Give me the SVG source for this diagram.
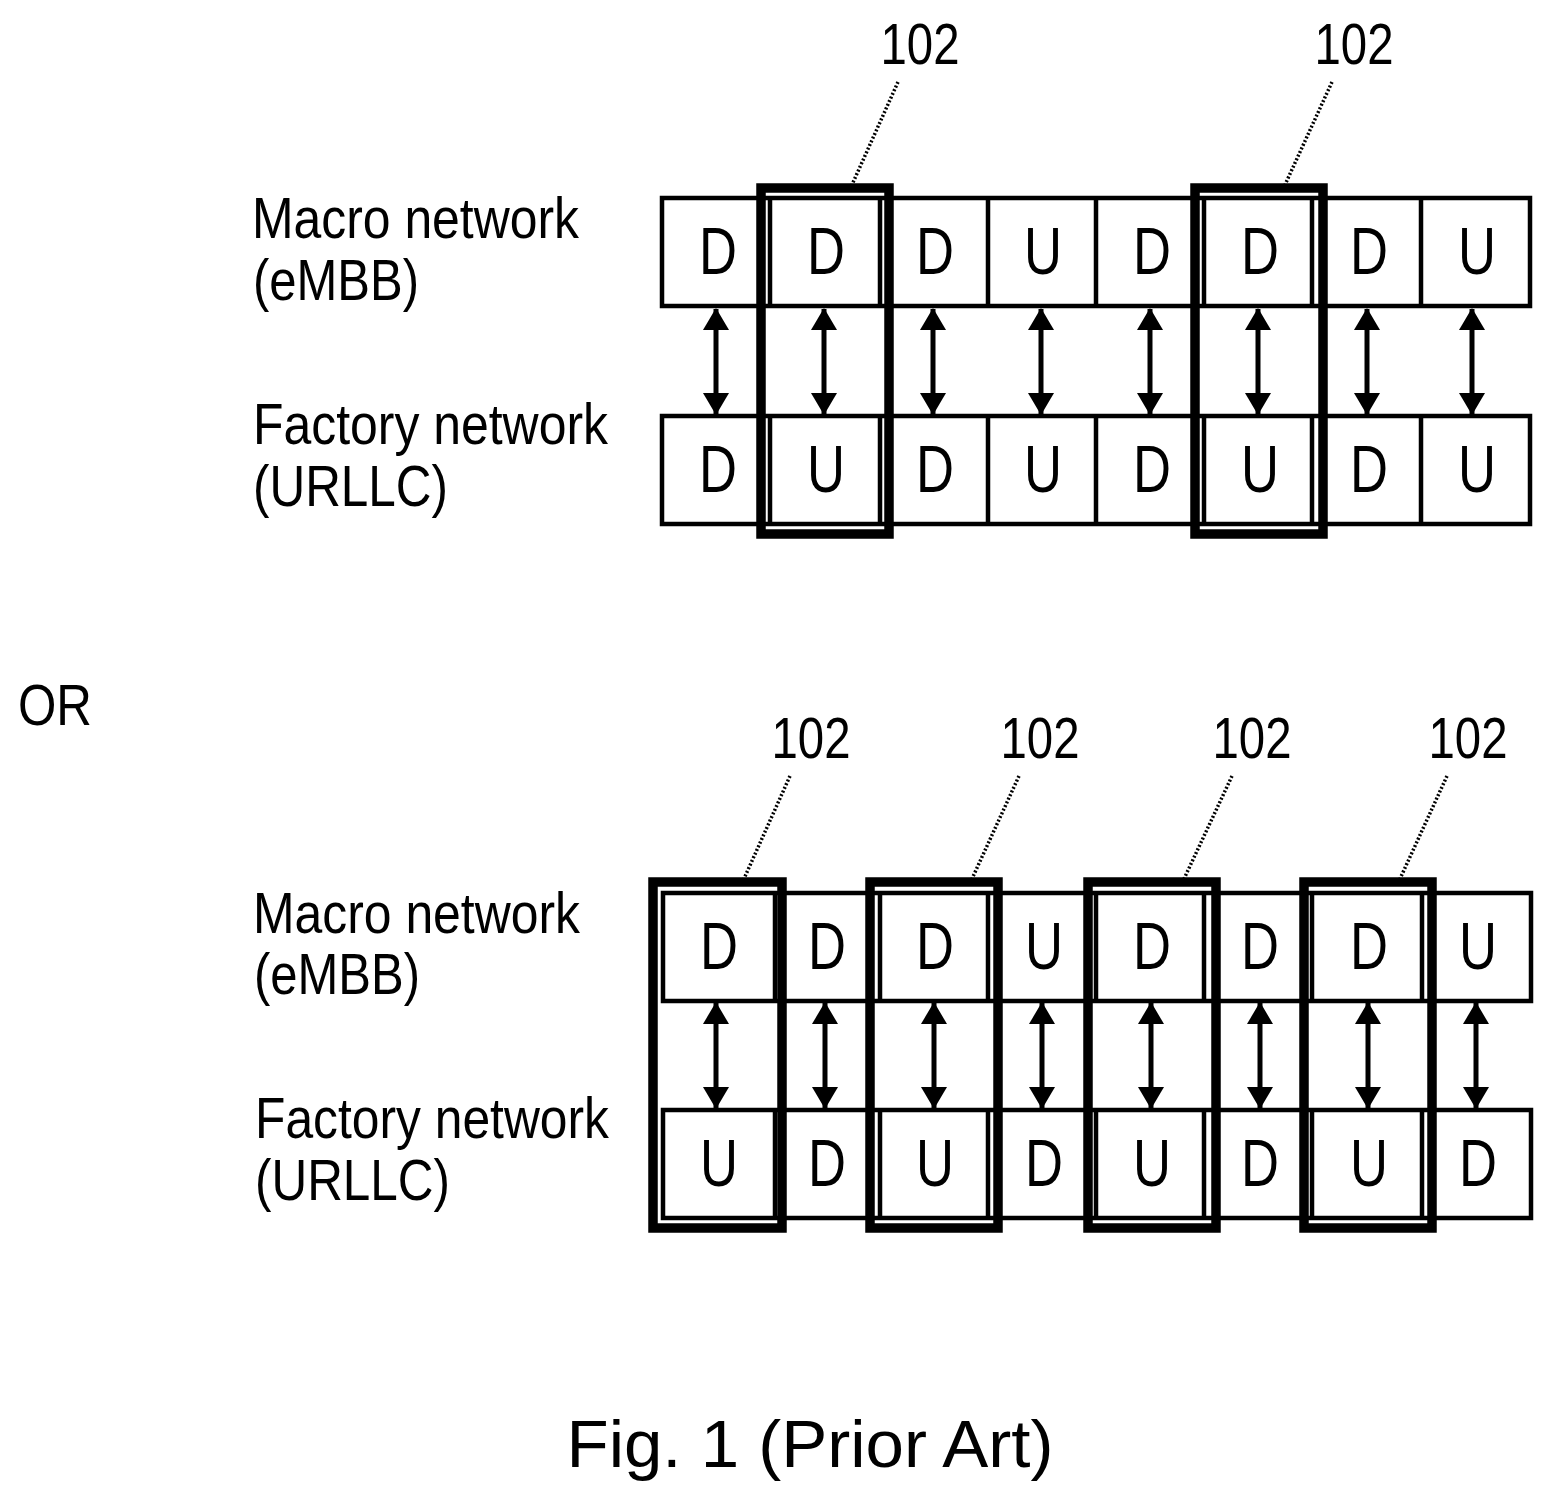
<svg xmlns="http://www.w3.org/2000/svg" width="1553" height="1503" viewBox="0 0 1553 1503">
<style>
text{font-family:"Liberation Sans",Arial,sans-serif;fill:#000}
.l{font-size:57px}
.c{font-size:67px;text-anchor:middle}
.n{font-size:57px;text-anchor:middle}
.f{font-size:67px;text-anchor:middle}
.cell{fill:none;stroke:#000;stroke-width:4.5}
.hl{fill:none;stroke:#000;stroke-width:9.5}
.lead{stroke:#000;stroke-width:3.5;stroke-dasharray:2 2;fill:none}
.a{stroke:#000;stroke-width:5;marker-start:url(#h);marker-end:url(#h);fill:none}
</style>
<defs><marker id="h" markerUnits="userSpaceOnUse" markerWidth="22" markerHeight="26" refX="21" refY="13" orient="auto-start-reverse" viewBox="0 0 22 26"><path d="M0 0L22 13L0 26Z" fill="#000"/></marker></defs>
<rect width="1553" height="1503" fill="#fff"/>
<g id="labels">
<text class="l" x="252" y="238" textLength="327" lengthAdjust="spacingAndGlyphs">Macro network</text>
<text class="l" x="253" y="300" textLength="166" lengthAdjust="spacingAndGlyphs">(eMBB)</text>
<text class="l" x="253" y="444" textLength="355" lengthAdjust="spacingAndGlyphs">Factory network</text>
<text class="l" x="253" y="506" textLength="195" lengthAdjust="spacingAndGlyphs">(URLLC)</text>
<text class="l" x="253" y="933" textLength="327" lengthAdjust="spacingAndGlyphs">Macro network</text>
<text class="l" x="254" y="994" textLength="166" lengthAdjust="spacingAndGlyphs">(eMBB)</text>
<text class="l" x="255" y="1138" textLength="354" lengthAdjust="spacingAndGlyphs">Factory network</text>
<text class="l" x="255" y="1200" textLength="195" lengthAdjust="spacingAndGlyphs">(URLLC)</text>
<text class="l" x="18" y="725" textLength="74" lengthAdjust="spacingAndGlyphs">OR</text>
<text class="f" x="810" y="1467" textLength="487" lengthAdjust="spacingAndGlyphs">Fig. 1 (Prior Art)</text>
<text class="n" x="920" y="64" textLength="79" lengthAdjust="spacingAndGlyphs">102</text>
<text class="n" x="1354" y="64" textLength="79" lengthAdjust="spacingAndGlyphs">102</text>
<text class="n" x="811" y="758" textLength="79" lengthAdjust="spacingAndGlyphs">102</text>
<text class="n" x="1040" y="758" textLength="79" lengthAdjust="spacingAndGlyphs">102</text>
<text class="n" x="1252" y="758" textLength="79" lengthAdjust="spacingAndGlyphs">102</text>
<text class="n" x="1468" y="758" textLength="79" lengthAdjust="spacingAndGlyphs">102</text>
</g>
<g id="top-macro">
<rect class="cell" x="662" y="198" width="868" height="108"/>
<path class="cell" d="M770 198V306M880 198V306M988 198V306M1096 198V306M1204 198V306M1312 198V306M1421 198V306"/>
<text class="c" x="718" y="274" textLength="38" lengthAdjust="spacingAndGlyphs">D</text><text class="c" x="826" y="274" textLength="38" lengthAdjust="spacingAndGlyphs">D</text><text class="c" x="935" y="274" textLength="38" lengthAdjust="spacingAndGlyphs">D</text><text class="c" x="1043" y="274" textLength="38" lengthAdjust="spacingAndGlyphs">U</text><text class="c" x="1152" y="274" textLength="38" lengthAdjust="spacingAndGlyphs">D</text><text class="c" x="1260" y="274" textLength="38" lengthAdjust="spacingAndGlyphs">D</text><text class="c" x="1369" y="274" textLength="38" lengthAdjust="spacingAndGlyphs">D</text><text class="c" x="1477" y="274" textLength="38" lengthAdjust="spacingAndGlyphs">U</text>
</g>
<g id="top-factory">
<rect class="cell" x="662" y="416" width="868" height="108"/>
<path class="cell" d="M770 416V524M880 416V524M988 416V524M1096 416V524M1204 416V524M1312 416V524M1421 416V524"/>
<text class="c" x="718" y="492" textLength="38" lengthAdjust="spacingAndGlyphs">D</text><text class="c" x="826" y="492" textLength="38" lengthAdjust="spacingAndGlyphs">U</text><text class="c" x="935" y="492" textLength="38" lengthAdjust="spacingAndGlyphs">D</text><text class="c" x="1043" y="492" textLength="38" lengthAdjust="spacingAndGlyphs">U</text><text class="c" x="1152" y="492" textLength="38" lengthAdjust="spacingAndGlyphs">D</text><text class="c" x="1260" y="492" textLength="38" lengthAdjust="spacingAndGlyphs">U</text><text class="c" x="1369" y="492" textLength="38" lengthAdjust="spacingAndGlyphs">D</text><text class="c" x="1477" y="492" textLength="38" lengthAdjust="spacingAndGlyphs">U</text>
</g>
<g id="bottom-macro">
<rect class="cell" x="663" y="893" width="868" height="108"/>
<path class="cell" d="M775 893V1001M880 893V1001M988 893V1001M1096 893V1001M1204 893V1001M1312 893V1001M1422 893V1001"/>
<text class="c" x="719" y="969" textLength="38" lengthAdjust="spacingAndGlyphs">D</text><text class="c" x="827" y="969" textLength="38" lengthAdjust="spacingAndGlyphs">D</text><text class="c" x="935" y="969" textLength="38" lengthAdjust="spacingAndGlyphs">D</text><text class="c" x="1044" y="969" textLength="38" lengthAdjust="spacingAndGlyphs">U</text><text class="c" x="1152" y="969" textLength="38" lengthAdjust="spacingAndGlyphs">D</text><text class="c" x="1260" y="969" textLength="38" lengthAdjust="spacingAndGlyphs">D</text><text class="c" x="1369" y="969" textLength="38" lengthAdjust="spacingAndGlyphs">D</text><text class="c" x="1478" y="969" textLength="38" lengthAdjust="spacingAndGlyphs">U</text>
</g>
<g id="bottom-factory">
<rect class="cell" x="663" y="1110" width="868" height="108"/>
<path class="cell" d="M775 1110V1218M880 1110V1218M988 1110V1218M1096 1110V1218M1204 1110V1218M1312 1110V1218M1422 1110V1218"/>
<text class="c" x="719" y="1186" textLength="38" lengthAdjust="spacingAndGlyphs">U</text><text class="c" x="827" y="1186" textLength="38" lengthAdjust="spacingAndGlyphs">D</text><text class="c" x="935" y="1186" textLength="38" lengthAdjust="spacingAndGlyphs">U</text><text class="c" x="1044" y="1186" textLength="38" lengthAdjust="spacingAndGlyphs">D</text><text class="c" x="1152" y="1186" textLength="38" lengthAdjust="spacingAndGlyphs">U</text><text class="c" x="1260" y="1186" textLength="38" lengthAdjust="spacingAndGlyphs">D</text><text class="c" x="1369" y="1186" textLength="38" lengthAdjust="spacingAndGlyphs">U</text><text class="c" x="1478" y="1186" textLength="38" lengthAdjust="spacingAndGlyphs">D</text>
</g>
<g id="highlights">
<rect class="hl" x="761" y="188" width="128" height="346"/>
<rect class="hl" x="1195" y="188" width="128" height="346"/>
<rect class="hl" x="653" y="882" width="129" height="346"/>
<rect class="hl" x="870" y="882" width="128" height="346"/>
<rect class="hl" x="1088" y="882" width="128" height="346"/>
<rect class="hl" x="1304" y="882" width="128" height="346"/>
</g>
<g id="connectors">
<path class="a" d="M716 309V414"/><path class="a" d="M824 309V414"/><path class="a" d="M933 309V414"/><path class="a" d="M1041 309V414"/><path class="a" d="M1150 309V414"/><path class="a" d="M1258 309V414"/><path class="a" d="M1367 309V414"/><path class="a" d="M1472 309V414"/>
<path class="a" d="M716 1003V1108"/><path class="a" d="M825 1003V1108"/><path class="a" d="M934 1003V1108"/><path class="a" d="M1042 1003V1108"/><path class="a" d="M1151 1003V1108"/><path class="a" d="M1260 1003V1108"/><path class="a" d="M1368 1003V1108"/><path class="a" d="M1476 1003V1108"/>
<path class="lead" d="M898 82L851 187M1332 82L1284 187M790 776L743 881M1019 776L971 881M1232 776L1183 881M1447 776L1399 881"/>
</g>
</svg>
